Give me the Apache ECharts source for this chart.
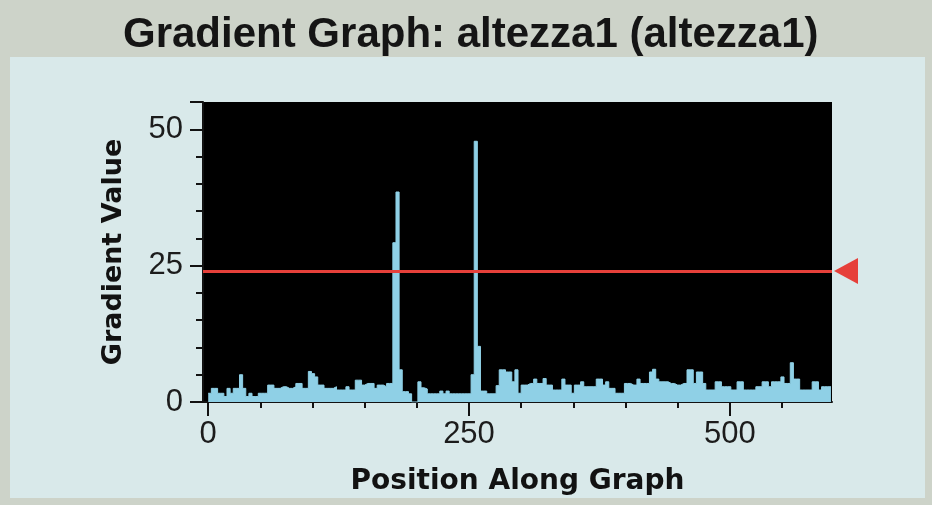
<!DOCTYPE html>
<html>
<head>
<meta charset="utf-8">
<script src="https://cdn.jsdelivr.net/npm/echarts@6/dist/echarts.min.js"></script>
<style>
  html, body { margin: 0; padding: 0; background: #cdd3c9; }
  #chart { width: 932px; height: 505px; }
</style>
</head>
<body>
<div id="chart"></div>
<script>
// Sampling interval of the gradient profile (positions along the graph)
const STEP = 3;

// Gradient value sampled every STEP positions, starting at position 0
const gradientValues = [
  1.6, 2.5, 2.5, 1.6, 1.6, 1.0, 2.5, 1.6, 2.5, 2.5,
  5.0, 2.5, 1.0, 1.6, 1.0, 1.0, 1.6, 1.6, 1.6, 3.1,
  3.1, 2.5, 2.5, 2.8, 2.8, 2.5, 2.5, 2.8, 3.4, 3.4,
  2.5, 2.5, 5.6, 5.2, 4.6, 3.1, 3.1, 2.5, 2.5, 2.5,
  2.8, 2.2, 2.2, 2.2, 2.8, 2.2, 2.2, 4.0, 4.0, 3.1,
  3.4, 3.4, 3.4, 2.5, 3.1, 3.1, 2.8, 3.4, 3.4, 29.2,
  38.5, 5.9, 1.9, 1.9, 1.5, 0, 0, 3.7, 2.6, 2.4,
  1.5, 1.5, 1.5, 1.5, 2.0, 1.5, 2.0, 1.5, 1.5, 1.5,
  1.5, 1.5, 1.5, 1.5, 5.0, 47.8, 10.2, 2.0, 2.0, 1.5,
  1.5, 1.5, 3.0, 5.9, 5.9, 5.5, 5.5, 3.7, 5.9, 1.6,
  3.1, 3.1, 3.4, 3.4, 4.2, 3.4, 3.4, 4.3, 3.1, 3.1,
  2.2, 2.2, 2.2, 4.2, 3.1, 3.1, 1.6, 3.1, 3.1, 3.7,
  2.8, 2.8, 2.8, 2.8, 4.2, 4.2, 3.1, 3.7, 2.5, 2.5,
  1.6, 1.6, 1.6, 3.4, 3.4, 3.1, 3.1, 4.2, 3.4, 3.4,
  3.4, 5.5, 6.0, 4.2, 3.7, 3.7, 3.7, 3.4, 3.4, 3.1,
  3.1, 3.4, 3.4, 5.9, 5.9, 3.4, 5.5, 5.5, 3.4, 2.2,
  2.2, 2.2, 3.7, 3.7, 2.8, 2.8, 2.8, 2.2, 2.2, 3.7,
  3.7, 2.2, 2.2, 2.2, 2.2, 2.8, 2.8, 3.7, 3.7, 2.8,
  3.7, 3.7, 3.7, 4.6, 3.4, 3.4, 7.2, 4.2, 4.2, 2.2,
  2.2, 2.2, 2.2, 3.7, 3.7, 2.2, 2.8, 2.8, 2.8
];

// Threshold marker level
const thresholdValue = 24;

// Axis tick labels
const xTickLabels = [0, 250, 500];
const xMinorTicks = [0, 50, 100, 150, 200, 250, 300, 350, 400, 450, 500, 550];
const yTickInterval = 25;

const X_MIN = -5;
const X_MAX = 598;
const Y_MAX = 55;

// [position, value] pairs; the last sample is repeated at the end of its
// interval so that the final step is closed.
const profile = gradientValues.map((v, i) => [i * STEP, v]);
profile.push([gradientValues.length * STEP, gradientValues[gradientValues.length - 1]]);

const INK = '#121212';
const RED = '#e6403a';
const TRACE = '#8fd0e6';

const chart = echarts.init(document.getElementById('chart'), null, { renderer: 'canvas' });

chart.setOption({
  animation: false,
  backgroundColor: '#cdd3c9',
  graphic: [{
    type: 'rect',
    z: -100,
    silent: true,
    shape: { x: 10, y: 57, width: 915, height: 441 },
    style: { fill: '#d9e9ea' }
  }],
  title: {
    text: 'Gradient Graph: altezza1 (altezza1)',
    left: 118,
    top: 9,
    textStyle: {
      fontFamily: 'Liberation Sans, Arial, sans-serif',
      fontWeight: 'bold',
      fontSize: 42,
      color: '#151515'
    }
  },
  grid: {
    left: 203,
    right: 100,
    top: 102,
    bottom: 103,
    show: true,
    backgroundColor: '#000000',
    borderWidth: 0
  },
  xAxis: [{
    type: 'value',
    min: X_MIN,
    max: X_MAX,
    position: 'bottom',
    name: 'Position Along Graph',
    nameLocation: 'middle',
    nameGap: 66,
    nameTextStyle: {
      fontFamily: 'DejaVu Sans, sans-serif',
      fontWeight: 'bold',
      fontSize: 28,
      color: INK
    },
    axisLine: { show: true, onZero: false, lineStyle: { color: INK, width: 2 } },
    axisTick: { show: true, customValues: xTickLabels, length: 14, lineStyle: { color: INK, width: 2 } },
    axisLabel: {
      customValues: xTickLabels,
      margin: 17,
      fontFamily: 'Liberation Sans, Arial, sans-serif',
      fontSize: 31,
      color: '#1c1c1c'
    },
    splitLine: { show: false }
  }, {
    type: 'value',
    min: X_MIN,
    max: X_MAX,
    position: 'bottom',
    axisLine: { show: false, onZero: false },
    axisTick: { show: true, customValues: xMinorTicks, length: 6, lineStyle: { color: INK, width: 2 } },
    axisLabel: { show: false },
    splitLine: { show: false }
  }],
  yAxis: {
    type: 'value',
    min: 0,
    max: Y_MAX,
    interval: yTickInterval,
    name: 'Gradient Value',
    nameLocation: 'middle',
    nameGap: 76,
    nameTextStyle: {
      fontFamily: 'DejaVu Sans, sans-serif',
      fontWeight: 'bold',
      fontSize: 27,
      color: INK
    },
    axisLine: { show: true, onZero: false, lineStyle: { color: INK, width: 2 } },
    axisTick: { show: true, length: 13, lineStyle: { color: INK, width: 2 } },
    minorTick: { show: true, splitNumber: 5, length: 7, lineStyle: { color: INK, width: 2 } },
    axisLabel: {
      showMaxLabel: false,
      margin: 20,
      fontFamily: 'Liberation Sans, Arial, sans-serif',
      fontSize: 31,
      color: '#1c1c1c'
    },
    splitLine: { show: false }
  },
  series: [{
    type: 'line',
    xAxisIndex: 0,
    step: 'end',
    showSymbol: false,
    symbol: 'none',
    clip: true,
    data: profile,
    lineStyle: { color: TRACE, width: 1 },
    areaStyle: { color: TRACE, opacity: 1 },
    markLine: {
      silent: true,
      symbol: ['none', 'none'],
      label: { show: false },
      lineStyle: { color: RED, width: 3, type: 'solid' },
      data: [{ yAxis: thresholdValue }]
    },
    markPoint: {
      silent: true,
      symbol: 'triangle',
      symbolSize: [26, 24],
      symbolRotate: 90,
      symbolOffset: [14, 0],
      itemStyle: { color: RED },
      label: { show: false },
      data: [{ coord: [X_MAX, thresholdValue] }]
    }
  }]
});
</script>
</body>
</html>
